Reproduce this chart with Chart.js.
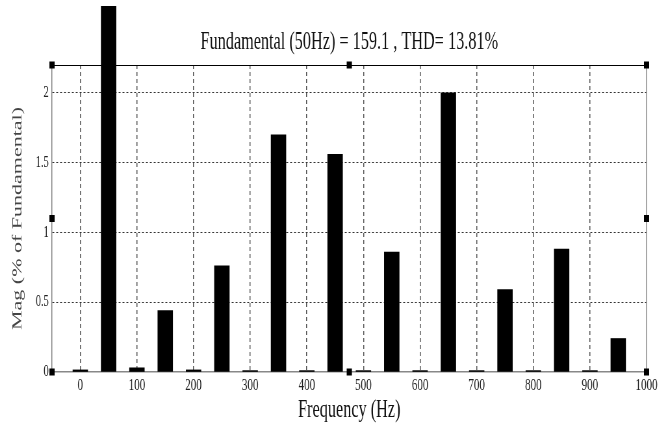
<!DOCTYPE html>
<html>
<head>
<meta charset="utf-8">
<script src="https://cdn.jsdelivr.net/npm/chart.js@4.4.1/dist/chart.umd.min.js"></script>
<style>
  html, body { margin: 0; padding: 0; background: #fff; overflow: hidden; }
  /* the reference is squeezed sideways, so draw wide and scale down */
  #wrap { width: 1028px; height: 426px; transform: scaleX(0.6498); transform-origin: 0 0; }
</style>
</head>
<body>
<div id="wrap"><canvas id="spectrum" width="1028" height="426"></canvas></div>
<script>
const freqs = [0, 50, 100, 150, 200, 250, 300, 350, 400, 450, 500, 550, 600, 650, 700, 750, 800, 850, 900, 950];
const mags = [0.015, 2.62, 0.03, 0.44, 0.015, 0.76, 0.01, 1.70, 0.01, 1.56, 0.01, 0.86, 0.01, 2.00, 0.01, 0.59, 0.01, 0.88, 0.01, 0.24];
const xTicks = [0, 100, 200, 300, 400, 500, 600, 700, 800, 900, 1000];
const yTicks = [0, 0.5, 1, 1.5, 2];

const serif = "'Liberation Serif', 'Times New Roman', serif";

// top/right box lines and the little selection handles
const frame = {
  id: 'frame',
  afterDraw(chart) {
    const { ctx, chartArea: a } = chart;
    ctx.save();
    ctx.strokeStyle = '#000';
    ctx.lineWidth = 1;
    ctx.beginPath();
    ctx.moveTo(a.left, a.top + 0.5);
    ctx.lineTo(a.right, a.top + 0.5);
    ctx.stroke();
    ctx.strokeStyle = '#888';
    ctx.lineWidth = 1.5;
    ctx.beginPath();
    ctx.moveTo(a.right, a.top);
    ctx.lineTo(a.right, a.bottom);
    ctx.stroke();

    const mx = (a.left + a.right) / 2;
    const my = (a.top + a.bottom) / 2;
    ctx.fillStyle = '#000';
    [[a.left, a.top], [mx, a.top], [a.right, a.top], [a.left, my], [a.right, my],
     [a.left, a.bottom], [mx, a.bottom], [a.right, a.bottom]].forEach(([x, y]) => {
      ctx.fillRect(x - 4, y - 3.5, 8, 7);
    });
    ctx.restore();
  }
};

new Chart(document.getElementById('spectrum'), {
  type: 'bar',
  data: {
    datasets: [{
      data: freqs.map((f, i) => ({ x: f, y: mags[i] })),
      backgroundColor: '#000',
      borderWidth: 0,
      barThickness: 23,
      clip: false
    }]
  },
  options: {
    responsive: false,
    animation: false,
    layout: { padding: { left: 0, right: 33, top: 0, bottom: 0 } },
    plugins: {
      legend: { display: false },
      tooltip: { enabled: false },
      title: {
        display: true,
        fullSize: false,
        text: 'Fundamental (50Hz) = 159.1 , THD= 13.81%',
        color: '#111',
        font: { family: serif, size: 25, weight: 'normal' },
        padding: { top: 27, bottom: 8 }
      }
    },
    scales: {
      x: {
        type: 'linear',
        min: -50,
        max: 1000,
        offset: false,
        afterBuildTicks: s => { s.ticks = xTicks.map(v => ({ value: v })); },
        afterFit: s => { s.height = 54; },
        grid: {
          offset: false,
          drawTicks: false,
          lineWidth: 1.5,
          color: c => (c.tick && c.tick.value === 1000) ? 'rgba(0,0,0,0)' : '#555'
        },
        border: { color: '#888', width: 1.5, dash: [4, 3] },
        ticks: {
          padding: 3,
          color: '#222',
          autoSkip: false,
          maxRotation: 0,
          font: { family: serif, size: 17 },
          callback: v => String(v)
        },
        title: {
          display: true,
          text: 'Frequency (Hz)',
          color: '#111',
          font: { family: serif, size: 25 },
          padding: { top: 0, bottom: 1 }
        }
      },
      y: {
        min: 0,
        max: 2.2,
        afterBuildTicks: s => { s.ticks = yTicks.map(v => ({ value: v })); },
        afterFit: s => { s.width = 80; },
        grid: {
          drawTicks: false,
          lineWidth: 1,
          color: c => (c.tick && c.tick.value === 0) ? 'rgba(0,0,0,0)' : '#333'
        },
        border: { color: '#888', width: 1.5, dash: [3, 3] },
        ticks: {
          padding: 5,
          color: '#222',
          font: { family: serif, size: 16 },
          callback: v => String(v)
        },
        title: {
          display: true,
          text: 'Mag (% of Fundamental)',
          color: '#444',
          font: { family: serif, size: 22, weight: 'normal' },
          padding: { top: 14, bottom: 0 }
        }
      }
    }
  },
  plugins: [frame]
});
</script>
</body>
</html>
